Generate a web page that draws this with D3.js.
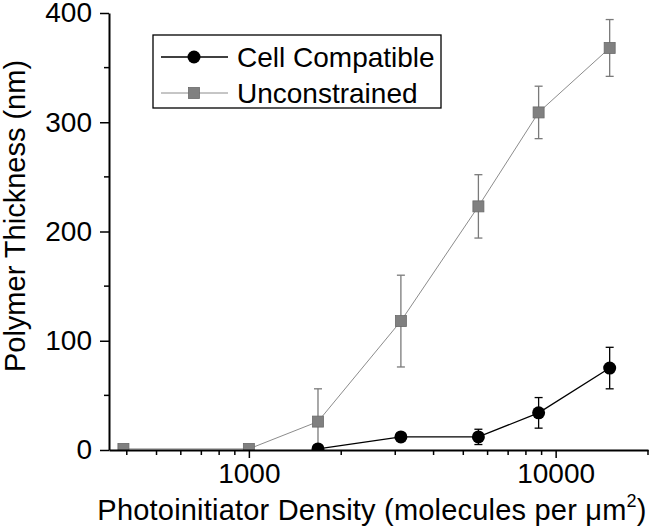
<!DOCTYPE html>
<html>
<head>
<meta charset="utf-8">
<script src="https://cdn.jsdelivr.net/npm/d3@7"></script>
<style>
  body { margin: 0; background: #fff; }
  text { font-family: "Liberation Sans", Arial, sans-serif; fill: #000; }
</style>
</head>
<body>
<svg id="chart" width="650" height="532"></svg>
<script>
// data
const density = [390, 1000, 1680, 3130, 5600, 8800, 15000];
const unconstrained = [1, 1, 26, 118, 223, 309, 368];
const unconstrainedErr = [3, 3, 30, 42, 29, 24, 26];

const cellDensity = [1680, 3130, 5600, 8800, 15000];
const cellCompatible = [1, 12, 12, 34, 75];
const cellErr = [2, 2, 7, 14, 19];

const xMajor = [1000, 10000];
const xMinor = [400, 500, 600, 700, 800, 900, 2000, 3000, 4000, 5000, 6000, 7000, 8000, 9000, 20000];
const yMajor = [0, 100, 200, 300, 400];
const yMinor = [50, 150, 250, 350];

const seriesNames = ['Cell Compatible', 'Unconstrained'];

const svg = d3.select('#chart');
const plotLeft = 109, plotRight = 648, plotTop = 13, plotBottom = 450;

const x = d3.scaleLog().domain([350, 20000]).range([plotLeft, plotRight]);
const y = d3.scaleLinear().domain([0, 400]).range([plotBottom, plotTop]);

// clip markers at the axes
svg.append('defs').append('clipPath').attr('id', 'plot')
    .append('rect')
    .attr('x', plotLeft).attr('y', 0)
    .attr('width', plotRight - plotLeft + 10).attr('height', plotBottom);

const plot = svg.append('g').attr('clip-path', 'url(#plot)');

const grey = '#8c8c8c';

const uData = density.map((d, i) => ({ x: d, y: unconstrained[i], e: unconstrainedErr[i] }));
const cData = cellDensity.map((d, i) => ({ x: d, y: cellCompatible[i], e: cellErr[i] }));

const line = d3.line().x(d => x(d.x)).y(d => y(d.y));

function errorBars(data, color) {
    const g = plot.append('g').attr('stroke', color).attr('stroke-width', 1.3);
    data.forEach(d => {
        const cx = x(d.x);
        g.append('line').attr('x1', cx).attr('x2', cx).attr('y1', y(d.y - d.e)).attr('y2', y(d.y + d.e));
        g.append('line').attr('x1', cx - 4).attr('x2', cx + 4).attr('y1', y(d.y + d.e)).attr('y2', y(d.y + d.e));
        g.append('line').attr('x1', cx - 4).attr('x2', cx + 4).attr('y1', y(d.y - d.e)).attr('y2', y(d.y - d.e));
    });
}

// unconstrained series
errorBars(uData, '#7a7a7a');
plot.append('path').datum(uData)
    .attr('d', line).attr('fill', 'none')
    .attr('stroke', grey).attr('stroke-width', 1);
plot.selectAll('.sq').data(uData).enter().append('rect')
    .attr('x', d => x(d.x) - 5.5).attr('y', d => y(d.y) - 5.5)
    .attr('width', 11).attr('height', 11)
    .attr('fill', '#808080').attr('stroke', '#6a6a6a').attr('stroke-width', 0.8);

// cell compatible series
errorBars(cData, '#000');
plot.append('path').datum(cData)
    .attr('d', line).attr('fill', 'none')
    .attr('stroke', '#000').attr('stroke-width', 1.3);
plot.selectAll('.dot').data(cData).enter().append('circle')
    .attr('cx', d => x(d.x)).attr('cy', d => y(d.y)).attr('r', 6.5)
    .attr('fill', '#000');

// axes
const xAxis = svg.append('g').attr('transform', `translate(0,${plotBottom})`);
xAxis.call(d3.axisBottom(x).tickValues(xMajor).tickFormat(d3.format('d')).tickSize(8).tickSizeOuter(0));
xAxis.append('g').selectAll('line').data(xMinor).enter().append('line')
    .attr('x1', d => x(d)).attr('x2', d => x(d)).attr('y1', 0).attr('y2', 5)
    .attr('stroke', '#000').attr('stroke-width', 1.5);

const yAxis = svg.append('g').attr('transform', `translate(${plotLeft},0)`);
yAxis.call(d3.axisLeft(y).tickValues(yMajor).tickSize(9).tickSizeOuter(0));
yAxis.append('g').selectAll('line').data(yMinor).enter().append('line')
    .attr('y1', d => y(d)).attr('y2', d => y(d)).attr('x1', 0).attr('x2', -5)
    .attr('stroke', '#000').attr('stroke-width', 1.5);

svg.selectAll('.domain').attr('stroke', '#000').attr('stroke-width', 2);
svg.selectAll('.tick line').attr('stroke', '#000').attr('stroke-width', 1.5);
xAxis.selectAll('.tick text').attr('font-size', 28).attr('y', 13).attr('font-family', 'Liberation Sans, Arial, sans-serif');
yAxis.selectAll('.tick text').attr('font-size', 28).attr('x', -17).attr('font-family', 'Liberation Sans, Arial, sans-serif');

// axis titles
const xt = svg.append('text')
    .attr('x', 372).attr('y', 520)
    .attr('text-anchor', 'middle').attr('font-size', 29)
    .attr('letter-spacing', 0.2)
    .text('Photoinitiator Density (molecules per \u03bcm');
xt.append('tspan').attr('font-size', 18).attr('dy', -13).text('2');
xt.append('tspan').attr('dy', 13).text(')');

svg.append('text')
    .attr('transform', 'translate(25,216) rotate(-90)')
    .attr('text-anchor', 'middle').attr('font-size', 29)
    .text('Polymer Thickness (nm)');

// legend
const legend = svg.append('g');
legend.append('rect')
    .attr('x', 153).attr('y', 35).attr('width', 288).attr('height', 73)
    .attr('fill', '#fff').attr('stroke', '#000').attr('stroke-width', 1.3);

const rows = legend.selectAll('.row').data(seriesNames).enter().append('g')
    .attr('transform', (d, i) => `translate(0,${57 + i * 36})`);
rows.append('line')
    .attr('x1', 161).attr('x2', 228).attr('y1', 0).attr('y2', 0)
    .attr('stroke', (d, i) => i === 0 ? '#000' : grey)
    .attr('stroke-width', (d, i) => i === 0 ? 1.3 : 1);
rows.filter((d, i) => i === 0).append('circle')
    .attr('cx', 194).attr('cy', 0).attr('r', 6.5).attr('fill', '#000');
rows.filter((d, i) => i === 1).append('rect')
    .attr('x', 188.5).attr('y', -5.5).attr('width', 11).attr('height', 11)
    .attr('fill', '#808080').attr('stroke', '#6a6a6a').attr('stroke-width', 0.8);
rows.append('text')
    .attr('x', 237).attr('y', 0).attr('dy', '0.35em')
    .attr('font-size', 28)
    .text(d => d);
</script>
</body>
</html>
